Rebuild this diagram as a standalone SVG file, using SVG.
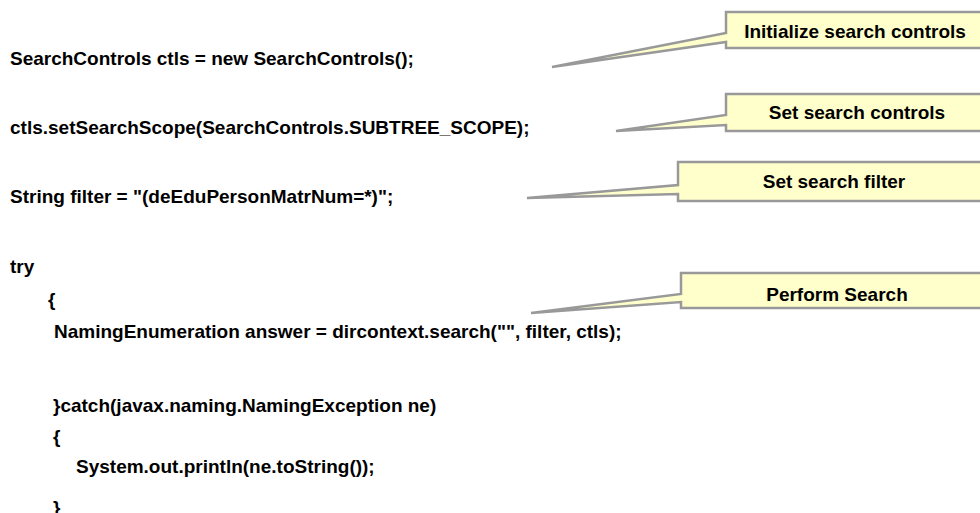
<svg xmlns="http://www.w3.org/2000/svg" width="980" height="513" viewBox="0 0 980 513">
<style>
.code{font-family:"Liberation Sans",Arial,sans-serif;font-weight:bold;font-size:19px;fill:#000}
.lbl{font-family:"Liberation Sans",Arial,sans-serif;font-weight:bold;font-size:19px;fill:#000;text-anchor:middle}
.co{fill:#FFFFCC;stroke:#999;stroke-width:2.5;stroke-linejoin:miter}
</style>
<rect width="980" height="513" fill="#fff"/>
<g id="code">
<text class="code" x="10" y="65">SearchControls ctls = new SearchControls();</text>
<text class="code" x="10" y="134">ctls.setSearchScope(SearchControls.SUBTREE_SCOPE);</text>
<text class="code" x="10" y="203">String filter = "(deEduPersonMatrNum=*)";</text>
<text class="code" x="10" y="273">try</text>
<text class="code" x="48" y="306">{</text>
<text class="code" x="54" y="338">NamingEnumeration answer = dircontext.search("", filter, ctls);</text>
<text class="code" x="53" y="412">}catch(javax.naming.NamingException ne)</text>
<text class="code" x="53" y="443">{</text>
<text class="code" x="76" y="473">System.out.println(ne.toString());</text>
<text class="code" x="53" y="514">}</text>
</g>
<g id="callout1">
<path class="co" d="M726,12 H990 V48 H726 V42 L552,67 L726,33 Z"/>
<text class="lbl" x="855" y="38">Initialize search controls</text>
</g>
<g id="callout2">
<path class="co" d="M726,94 H990 V131 H726 V125 L616,131 L726,115 Z"/>
<text class="lbl" x="857" y="119">Set search controls</text>
</g>
<g id="callout3">
<path class="co" d="M678,162 H990 V201 H678 V194 L527,198 L678,185 Z"/>
<text class="lbl" x="834" y="188">Set search filter</text>
</g>
<g id="callout4">
<path class="co" d="M681,273 H990 V308 H681 V302 L531,313 L681,294 Z"/>
<text class="lbl" x="837" y="301">Perform Search</text>
</g>
</svg>
